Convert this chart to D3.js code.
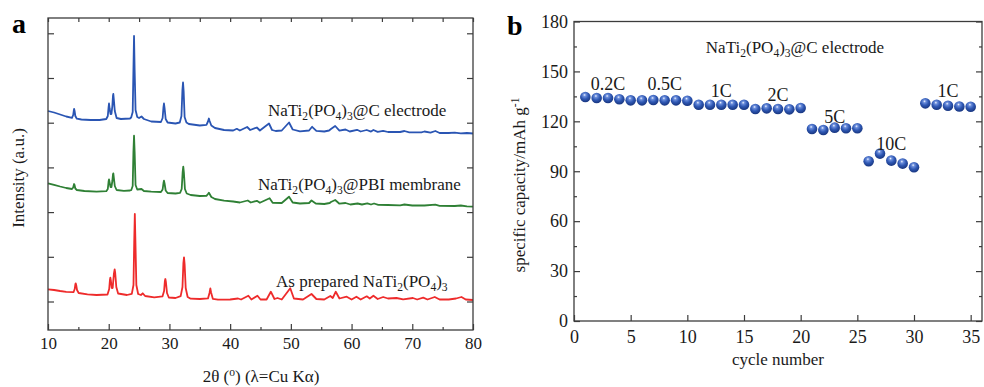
<!DOCTYPE html>
<html>
<head>
<meta charset="utf-8">
<script src="https://cdn.jsdelivr.net/npm/d3@7"></script>
<style>
  body { margin: 0; background: #fff; }
  svg { display: block; font-family: "Liberation Serif", "Times New Roman", serif; }
  .frame { fill: none; stroke: #3c3c3c; stroke-width: 1.3; }
  .axis path { display: none; }
  .axis line { stroke: #3c3c3c; stroke-width: 1.2; }
  .axis text { fill: #1a1a1a; font-family: "Liberation Serif", serif; }
</style>
</head>
<body>
<div id="fig"></div>
<script>
// XRD patterns: [2theta (deg), intensity (counts)], curves stacked by offset
const ntpCarbonElectrode = [
  [10.0,2190],[11.0,2175],[12.0,2155],[13.0,2135],
  [13.95,2122],[14.15,2150],[14.25,2195],[14.3,2210],[14.38,2190],[14.5,2140],[14.75,2113],
  [15.5,2105],[17.0,2100],[18.5,2100],[19.6,2110],[19.85,2140],[19.98,2230],[20.05,2265],[20.15,2215],
  [20.3,2160],[20.45,2160],[20.6,2240],[20.7,2340],[20.76,2360],[20.85,2300],[21.0,2190],[21.3,2120],
  [22.0,2110],[23.5,2115],[23.7,2125],[23.95,2180],[24.07,2600],[24.17,2940],[24.27,2600],[24.42,2200],
  [24.7,2130],[25.0,2120],[25.4,2135],[25.8,2110],[27.0,2085],
  [28.6,2080],[28.88,2120],[29.02,2230],[29.1,2265],[29.2,2220],[29.38,2110],[29.7,2075],
  [31.0,2065],[31.7,2075],[31.98,2140],[32.14,2400],[32.24,2475],[32.34,2390],[32.5,2130],[32.8,2075],
  [33.2,2060],[35.0,2045],[36.1,2052],[36.35,2085],[36.5,2115],[36.62,2090],[36.9,2045],
  [37.5,2020],[39.0,2000],[40.5,1995],[41.1,2012],[41.6,1995],[42.8,2030],[43.3,2000],[44.4,2025],
  [44.9,1995],[46.4,2065],[46.9,2000],[47.5,1990],[48.5,1995],[49.7,2075],[50.3,2005],[51.5,1987],
  [53.0,1995],[53.5,2032],[54.2,1992],[55.5,1985],[56.3,1995],[56.6,2010],[57.3,2040],[58.0,1993],
  [59.0,2005],[59.7,1985],[60.9,2002],[61.5,1985],[62.5,2000],[63.2,1984],[63.6,2000],[64.3,1982],
  [65.2,1992],[66.0,1980],[68.0,1980],[68.7,1990],[69.5,1977],[71.5,1977],[72.0,1985],[73.0,1974],
  [73.8,1990],[74.5,1970],[76.0,1970],[77.0,1974],[78.0,1967],[79.0,1970],[80.0,1965]
];
const ntpPbiMembrane = [
  [10.0,1467],[11.0,1452],[12.0,1435],[13.0,1420],
  [13.95,1410],[14.15,1425],[14.25,1450],[14.3,1460],[14.38,1448],[14.5,1415],[14.75,1400],
  [16.0,1390],[18.0,1383],[19.6,1388],[19.85,1410],[19.98,1485],[20.05,1507],[20.15,1475],[20.3,1430],
  [20.45,1430],[20.6,1490],[20.7,1555],[20.76,1567],[20.85,1520],[21.0,1440],[21.3,1400],
  [22.5,1392],[23.5,1395],[23.7,1398],[23.95,1440],[24.07,1780],[24.17,1943],[24.27,1780],[24.42,1450],
  [24.7,1405],[25.4,1410],[25.8,1390],[27.0,1383],
  [28.6,1380],[28.88,1405],[29.02,1470],[29.1,1493],[29.2,1465],[29.38,1395],[29.7,1370],
  [31.0,1365],[31.75,1372],[32.02,1410],[32.18,1580],[32.28,1633],[32.38,1575],[32.55,1410],[32.85,1365],
  [33.5,1350],[35.0,1340],[36.1,1342],[36.35,1360],[36.5,1373],[36.62,1360],[36.9,1330],[37.5,1310],
  [39.0,1293],[40.5,1285],[41.6,1275],[42.9,1295],[43.4,1275],[44.4,1292],[44.9,1272],[46.5,1317],
  [47.0,1272],[48.5,1270],[49.7,1333],[50.3,1275],[51.5,1265],[53.0,1270],[53.4,1295],[54.1,1265],
  [55.5,1260],[56.4,1270],[56.6,1280],[57.3,1300],[58.0,1263],[59.0,1270],[59.8,1255],[61.0,1265],
  [61.7,1255],[62.6,1267],[63.2,1255],[63.7,1265],[64.4,1252],[66.0,1250],[68.0,1247],[68.7,1255],
  [70.0,1245],[72.0,1245],[73.8,1253],[74.5,1242],[77.0,1240],[78.0,1245],[79.0,1237],[80.0,1233]
];
const ntpAsPrepared = [
  [10.0,407],[11.0,400],[12.0,390],[13.0,382],
  [14.2,378],[14.4,410],[14.5,455],[14.56,467],[14.64,450],[14.78,400],[15.05,370],
  [16.5,357],[18.0,350],[19.8,355],[20.08,410],[20.2,500],[20.27,523],[20.36,490],[20.5,420],
  [20.65,420],[20.85,560],[20.98,607],[21.07,570],[21.25,430],[21.55,365],
  [23.0,350],[23.8,362],[24.08,450],[24.2,880],[24.3,1160],[24.4,880],[24.55,450],[24.85,360],
  [25.3,350],[25.6,367],[26.0,340],[27.5,327],
  [28.85,336],[29.12,390],[29.25,490],[29.33,510],[29.42,480],[29.6,370],[29.9,325],
  [31.0,320],[31.85,338],[32.15,430],[32.3,670],[32.4,727],[32.5,660],[32.68,420],[33.0,330],
  [33.5,313],[35.0,310],[36.35,316],[36.6,370],[36.74,417],[36.86,375],[37.15,312],[38.0,303],
  [40.0,305],[41.3,315],[41.8,305],[43.0,343],[43.5,305],[44.5,343],[45.0,305],[46.0,305],[46.7,383],
  [47.3,310],[47.8,320],[48.5,305],[49.9,417],[50.5,315],[52.0,305],[53.4,360],[54.2,310],
  [55.5,305],[56.5,340],[56.9,320],[57.4,383],[58.0,315],[59.2,333],[60.0,305],[60.8,333],
  [61.5,305],[62.5,337],[63.0,315],[63.6,343],[64.3,310],[65.2,330],[66.0,315],[67.4,320],
  [68.5,307],[70.1,320],[70.8,305],[71.8,323],[72.5,305],[73.7,330],[74.5,305],[76.0,305],
  [77.2,315],[78.1,330],[78.8,305],[80.0,300]
];
const twoThetaTicks = [10, 20, 30, 40, 50, 60, 70, 80];
const twoThetaMinorTicks = [15, 25, 35, 45, 55, 65, 75];
const intensityTicks = [285, 732, 1179, 1626, 2073, 2520, 2967];

// rate capability of the NaTi2(PO4)3@C electrode
const cycles = [1,2,3,4,5,6,7,8,9,10,11,12,13,14,15,16,17,18,19,20,21,22,23,24,25,26,27,28,29,30,31,32,33,34,35];
const capacity = [134.6,134.0,134.0,133.3,132.6,132.6,132.8,132.6,132.6,132.4,
                  130.0,130.0,130.0,130.0,130.0,127.4,127.8,127.4,127.2,128.0,
                  115.4,114.8,116.2,115.8,115.8,96.0,100.6,96.4,94.6,92.4,
                  130.8,130.0,129.4,128.9,128.8];
const rateLabels = ['0.2C', '0.5C', '1C', '2C', '5C', '10C', '1C'];
const cycleTicks = [0, 5, 10, 15, 20, 25, 30, 35];
const capacityTicks = [0, 30, 60, 90, 120, 150, 180];
const capacityMinorTicks = [15, 45, 75, 105, 135, 165];

const W = 984, H = 387;
const svg = d3.select('#fig').append('svg').attr('width', W).attr('height', H);

// writes chemical formulas with sub/superscripts into a text element
function richText(text, parts) {
  let shift = 0;
  parts.forEach(([t, kind]) => {
    const target = kind === 'sub' ? 4 : kind === 'sup' ? -6 : 0;
    const ts = text.append('tspan').attr('dy', target - shift).text(t);
    if (kind) ts.attr('font-size', '0.68em');
    shift = target;
  });
  return text;
}
const ntp = [['NaTi'], ['2', 'sub'], ['(PO'], ['4', 'sub'], [')'], ['3', 'sub']];

function frameAxes(g, x, y, opts) {
  const [x0, x1] = x.range(), [y0, y1] = y.range();
  g.append('rect').attr('class', 'frame')
    .attr('x', x0).attr('y', y1).attr('width', x1 - x0).attr('height', y0 - y1);
  const bottom = g.append('g').attr('class', 'axis').attr('transform', `translate(0,${y0})`)
    .call(d3.axisBottom(x).tickValues(opts.xTicks).tickSize(-6).tickPadding(opts.xPad));
  bottom.selectAll('text').attr('font-size', opts.xFont);
  if (opts.xMinor) {
    g.append('g').attr('class', 'axis').attr('transform', `translate(0,${y0})`)
      .call(d3.axisBottom(x).tickValues(opts.xMinor).tickSize(-3).tickFormat(''));
  }
  if (opts.xTop) {
    g.append('g').attr('class', 'axis').attr('transform', `translate(0,${y1})`)
      .call(d3.axisTop(x).tickValues(opts.xTop).tickSize(-4).tickFormat(''));
  }
  const left = g.append('g').attr('class', 'axis').attr('transform', `translate(${x0},0)`)
    .call(d3.axisLeft(y).tickValues(opts.yTicks).tickSize(-6).tickPadding(6)
      .tickFormat(opts.yLabels ? d3.format('d') : ''));
  left.selectAll('text').attr('font-size', opts.yFont);
  g.append('g').attr('class', 'axis').attr('transform', `translate(${x1},0)`)
    .call(d3.axisRight(y).tickValues(opts.yTicks).tickSize(-6).tickFormat(''));
  if (opts.yMinor) {
    g.append('g').attr('class', 'axis').attr('transform', `translate(${x0},0)`)
      .call(d3.axisLeft(y).tickValues(opts.yMinor).tickSize(-3).tickFormat(''));
    g.append('g').attr('class', 'axis').attr('transform', `translate(${x1},0)`)
      .call(d3.axisRight(y).tickValues(opts.yMinor).tickSize(-3).tickFormat(''));
  }
}

// ---------- a: XRD ----------
const gA = svg.append('g');
const xA = d3.scaleLinear().domain([10, 80]).range([48, 473]);
const yA = d3.scaleLinear().domain([0, 3120]).range([330, 18]);

const xrdSeries = [
  { data: ntpCarbonElectrode, color: '#2a55b3', label: [...ntp, ['@C electrode']], at: [268, 116] },
  { data: ntpPbiMembrane, color: '#2f8035', label: [...ntp, ['@PBI membrane']], at: [258, 190] },
  { data: ntpAsPrepared, color: '#ee2b2b', label: [['As prepared '], ...ntp], at: [276, 287] }
];
const line = d3.line().x(d => xA(d[0])).y(d => yA(d[1]));

gA.selectAll('path.xrd').data(xrdSeries).join('path').attr('class', 'xrd')
  .attr('d', d => line(d.data)).attr('fill', 'none')
  .attr('stroke', d => d.color).attr('stroke-width', 1.8).attr('stroke-linejoin', 'round');

frameAxes(gA, xA, yA, {
  xTicks: twoThetaTicks, xMinor: twoThetaMinorTicks, xTop: twoThetaTicks.concat(twoThetaMinorTicks),
  xPad: 7, xFont: 17, yTicks: intensityTicks, yLabels: false
});

xrdSeries.forEach(s => {
  richText(gA.append('text').attr('x', s.at[0]).attr('y', s.at[1])
    .attr('font-size', 17).attr('fill', '#1a1a1a'), s.label);
});

gA.append('text').attr('transform', 'translate(24,178) rotate(-90)')
  .attr('text-anchor', 'middle').attr('font-size', 17).attr('fill', '#1a1a1a')
  .text('Intensity (a.u.)');
richText(gA.append('text').attr('x', 261).attr('y', 382).attr('text-anchor', 'middle')
  .attr('font-size', 17).attr('fill', '#1a1a1a'), [['2θ ('], ['o', 'sup'], [') (λ=Cu Kα)']]);
gA.append('text').attr('x', 12).attr('y', 33).attr('font-size', 28)
  .attr('font-weight', 'bold').text('a');

// ---------- b: rate performance ----------
const gB = svg.append('g');
const xB = d3.scaleLinear().domain([0, 36]).range([574, 982]);
const yB = d3.scaleLinear().domain([0, 180]).range([321, 21.5]);

frameAxes(gB, xB, yB, {
  xTicks: cycleTicks, xPad: 9, xFont: 18,
  yTicks: capacityTicks, yMinor: capacityMinorTicks, yLabels: true, yFont: 18
});

const grad = svg.append('defs').append('radialGradient').attr('id', 'ball')
  .attr('cx', '45%').attr('cy', '35%').attr('r', '60%').attr('fx', '42%').attr('fy', '30%');
[['0%', '#f2f6ff'], ['22%', '#6d8fdc'], ['60%', '#2f58b4'], ['100%', '#1b3a86']]
  .forEach(([o, c]) => grad.append('stop').attr('offset', o).attr('stop-color', c));

const points = cycles.map((c, i) => ({ c, v: capacity[i] }));
gB.selectAll('circle.pt').data(points).join('circle').attr('class', 'pt')
  .attr('cx', d => xB(d.c)).attr('cy', d => yB(d.v)).attr('r', 5.3)
  .attr('fill', 'url(#ball)');

// one rate label per block of five cycles, lifted above the block's top point
const labelLift = [7, 10.5, 7.6, 7.3, 5, 3.7, 6.8];
rateLabels.forEach((r, k) => {
  const block = points.slice(k * 5, k * 5 + 5);
  gB.append('text')
    .attr('x', xB(d3.mean(block, d => d.c)))
    .attr('y', yB(d3.max(block, d => d.v)) - labelLift[k])
    .attr('text-anchor', 'middle').attr('font-size', 18).attr('fill', '#1a1a1a').text(r);
});

richText(gB.append('text').attr('x', 795).attr('y', 53).attr('text-anchor', 'middle')
  .attr('font-size', 17).attr('fill', '#1a1a1a'), [...ntp, ['@C electrode']]);
richText(gB.append('text').attr('transform', 'translate(525,185) rotate(-90)')
  .attr('text-anchor', 'middle').attr('font-size', 17).attr('fill', '#1a1a1a'),
  [['specific capacity/mAh g'], ['-1', 'sup']]);
gB.append('text').attr('x', 778).attr('y', 365).attr('text-anchor', 'middle')
  .attr('font-size', 17).attr('fill', '#1a1a1a').text('cycle number');
gB.append('text').attr('x', 507).attr('y', 35).attr('font-size', 28)
  .attr('font-weight', 'bold').text('b');
</script>
</body>
</html>
